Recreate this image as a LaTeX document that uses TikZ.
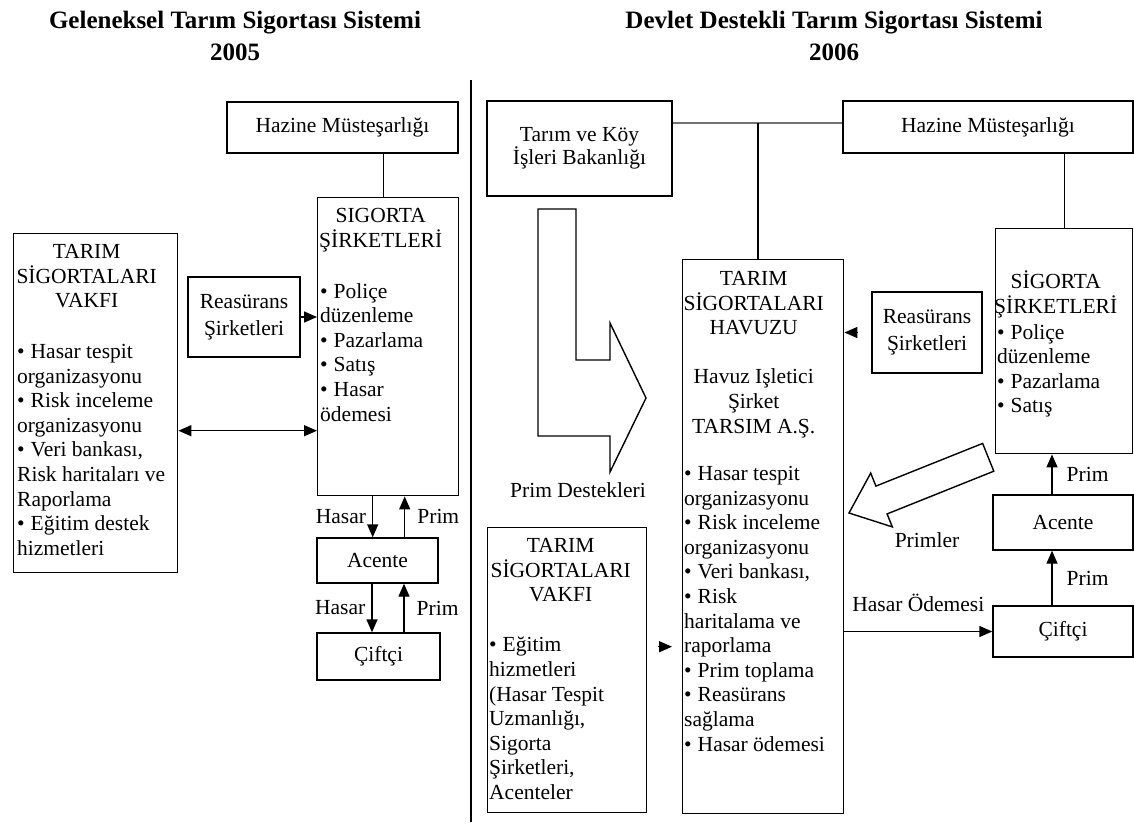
\documentclass[tikz,border=0pt]{standalone}
\usepackage{fontspec}
\setmainfont{Liberation Serif}
\usetikzlibrary{positioning,arrows.meta}
\newcommand{\blt}{\textbullet\hspace{6pt}}

\begin{document}
\begin{tikzpicture}[x=1pt,y=1pt,
  box/.style={draw, line width=1.4pt, inner sep=0pt, align=center, font=\fontsize{21.5}{24.6}\selectfont},
  txt/.style={inner sep=0pt, font=\fontsize{21.5}{24.6}\selectfont},
  head/.style={inner sep=0pt, align=center, font=\fontsize{25}{32}\selectfont\bfseries},
  arr/.style={-{Triangle[length=13pt,width=11pt]}, line width=1.4pt},
  arrs/.style={{Triangle[length=13pt,width=11pt]}-{Triangle[length=13pt,width=11pt]}, line width=1.4pt},
  link/.style={line width=1.4pt}]

\useasboundingbox (0,0) rectangle (1134,-828);

% titles
\node[head, anchor=north] (old) at (235,-11) {Geleneksel Tarım Sigortası Sistemi\\2005};
\node[head, anchor=north] (new) at (834,-11) {Devlet Destekli Tarım Sigortası Sistemi\\2006};
\draw[link] (471,-80) -- (471,-822);

% 2005
\node[box, minimum width=231pt, minimum height=51pt] (hazine1) at (342.5,-127.5) {Hazine Müsteşarlığı};
\node[box, minimum width=141pt, minimum height=298pt, anchor=north west] (sirket1) at (317,-197) {};
\node[txt, align=center, below=11pt of sirket1.north, xshift=-7.5pt] (sirket1t) {SIGORTA\\ŞİRKETLERİ};
\node[txt, align=left, below right=86pt and 3pt of sirket1.north west] (sirket1b)
  {\blt Poliçe\\düzenleme\\\blt Pazarlama\\\blt Satış\\\blt Hasar\\ödemesi};
\node[box, minimum width=112pt, minimum height=80pt, font=\fontsize{21.5}{27}\selectfont] (reas1) at (244,-317) {Reasürans\\Şirketleri};
\node[box, minimum width=164pt, minimum height=339pt, anchor=north west] (vakif1) at (13,-233) {};
\node[txt, align=center, below=11pt of vakif1.north, xshift=-9pt] (vakif1t) {TARIM\\SİGORTALARI\\VAKFI};
\node[txt, align=left, below right=111pt and 4pt of vakif1.north west] (vakif1b)
  {\blt Hasar tespit\\organizasyonu\\\blt Risk inceleme\\organizasyonu\\\blt Veri bankası,\\Risk haritaları ve\\Raporlama\\\blt Eğitim destek\\hizmetleri};
\node[box, minimum width=121pt, minimum height=45pt] (acente1) at (377.5,-560.5) {Acente};
\node[box, minimum width=123pt, minimum height=47pt] (ciftci1) at (378.5,-656.5) {Çiftçi};

\draw[link] ([xshift=-4.5pt]sirket1.north) -- ([xshift=-4.5pt]sirket1.north |- hazine1.south);
\draw[arr] (reas1.east) -- (reas1.east -| sirket1.west);
\draw[arrs] ([yshift=-27.5pt]vakif1.east) -- ([yshift=-27.5pt]vakif1.east -| sirket1.west);
\draw[arr] ([xshift=-15.5pt]sirket1.south) -- ([xshift=-15.5pt]sirket1.south |- acente1.north)
  node[txt, midway, left=6pt] {Hasar};
\draw[arr] ([xshift=16.5pt]sirket1.south |- acente1.north) -- ([xshift=16.5pt]sirket1.south)
  node[txt, midway, right=12pt] {Prim};
\draw[arr] ([xshift=-5.5pt]acente1.south) -- ([xshift=-5.5pt]acente1.south |- ciftci1.north)
  node[txt, midway, left=6pt] {Hasar};
\draw[arr] ([xshift=26.5pt]acente1.south |- ciftci1.north) -- ([xshift=26.5pt]acente1.south)
  node[txt, midway, right=12pt] {Prim};

% 2006
\node[box, minimum width=185pt, minimum height=95pt, font=\fontsize{21.5}{22}\selectfont] (tarim) at (579.5,-148.5) {Tarım ve Köy\\İşleri Bakanlığı};
\node[box, minimum width=290pt, minimum height=52pt] (hazine2) at (988,-127) {Hazine Müsteşarlığı};
\node[box, minimum width=161pt, minimum height=554pt, anchor=north west] (havuz) at (682,-259) {};
\node[txt, align=center, below=12pt of havuz.north, xshift=-9.5pt] (havuzt)
  {TARIM\\SİGORTALARI\\HAVUZU\\[24.6pt]Havuz Işletici\\Şirket\\TARSIM A.Ş.};
\node[txt, align=left, below right=207pt and 2pt of havuz.north west] (havuzb)
  {\blt Hasar tespit\\organizasyonu\\\blt Risk inceleme\\organizasyonu\\\blt Veri bankası,\\\blt Risk\\haritalama ve\\raporlama\\\blt Prim toplama\\\blt Reasürans\\sağlama\\\blt Hasar ödemesi};
\node[box, minimum width=110pt, minimum height=81pt, font=\fontsize{21.5}{27}\selectfont] (reas2) at (927,-332.5) {Reasürans\\Şirketleri};
\node[box, minimum width=137pt, minimum height=225pt, anchor=north west] (sirket2) at (995,-228) {};
\node[txt, align=center, below=43pt of sirket2.north, xshift=-8.5pt] (sirket2t) {SİGORTA\\ŞİRKETLERİ};
\node[txt, align=left, below right=96pt and 2pt of sirket2.north west] (sirket2b)
  {\blt Poliçe\\düzenleme\\\blt Pazarlama\\\blt Satış};
\node[box, minimum width=140pt, minimum height=55pt] (acente2) at (1063,-522.5) {Acente};
\node[box, minimum width=140pt, minimum height=51pt] (ciftci2) at (1063,-631.5) {Çiftçi};
\node[box, minimum width=159pt, minimum height=285pt, anchor=north west] (vakif2) at (487,-527) {};
\node[txt, align=center, below=11pt of vakif2.north, xshift=-6.5pt] (vakif2t) {TARIM\\SİGORTALARI\\VAKFI};
\node[txt, align=left, below right=110pt and 2pt of vakif2.north west] (vakif2b)
  {\blt Eğitim\\hizmetleri\\(Hasar Tespit\\Uzmanlığı,\\Sigorta\\Şirketleri,\\Acenteler};

\coordinate (j) at (758,-123);
\draw[line width=2.5pt, black!55] (tarim.east |- j) -- (hazine2.west |- j);
\draw[link] (j) -- (j |- havuz.north);
\draw[link] (sirket2.north) -- (sirket2.north |- hazine2.south);
\draw[arr, shorten <=14pt] (reas2.west) -- (reas2.west -| havuz.east);
\draw[arr, shorten <=11pt, shorten >=10pt] ([yshift=23.5pt]vakif2.east) -- ([yshift=23.5pt]vakif2.east -| havuz.west);
\draw[arr] ([xshift=-11pt]acente2.north) -- ([xshift=-11pt]acente2.north |- sirket2.south)
  node[txt, midway, right=14pt] {Prim};
\draw[arr] ([xshift=-11pt]ciftci2.north) -- ([xshift=-11pt]ciftci2.north |- acente2.south)
  node[txt, midway, right=14pt] {Prim};
\draw[arr] (havuz.east |- ciftci2.west) -- (ciftci2.west)
  node[txt, midway, above=19pt] {Hasar Ödemesi};

% block arrows
\draw[link] (538,-209) -- (576,-209) -- (576,-360) -- (610,-360) -- (610,-323) -- (646,-398)
  -- (610,-472) -- (610,-436) -- (538,-436) -- cycle;
\node[txt] (destek) at (578,-490) {Prim Destekleri};
\draw[link] (849,-513) -- (870.7,-473.1) -- (875.9,-486.1) -- (982.6,-443.4) -- (993.8,-471.2)
  -- (887.1,-513.9) -- (892.3,-526.9) -- cycle;
\node[txt] (primler) at (927,-540) {Primler};
\end{tikzpicture}
\end{document}
